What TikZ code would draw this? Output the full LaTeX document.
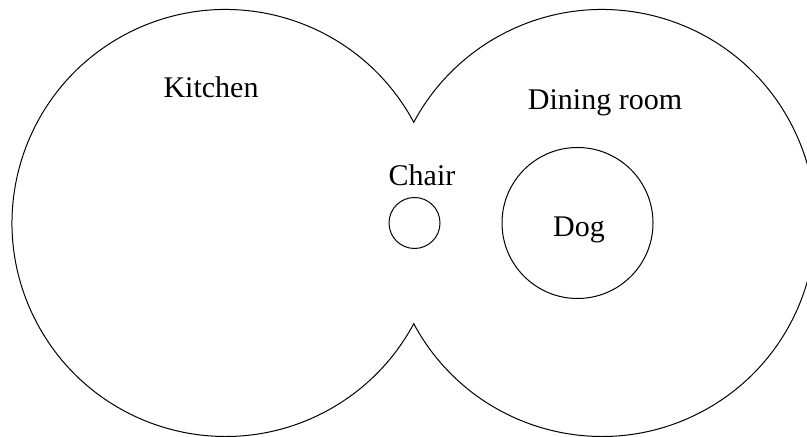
\documentclass[tikz,border=0pt]{standalone}
\usepackage{fontspec}
\setmainfont{Liberation Serif}
\usepackage{tikz}
\usetikzlibrary{positioning}

\tikzset{
  roomlabel/.style={anchor=base, inner sep=0pt, font=\fontsize{15}{18}\selectfont},
  thing/.style={draw, circle, inner sep=0pt, outer sep=0pt},
}

\begin{document}
\begin{tikzpicture}[x=0.5pt, y=0.5pt, line width=0.5pt]
\useasboundingbox (0,0) rectangle (807,437);
% the two rooms, outer outline only
\coordinate (doorTop) at (413.75,314.7);
\draw (doorTop) arc[start angle=28.14, end angle=331.86, radius=213.5]
      arc[start angle=208.14, end angle=511.86, radius=213.5] -- cycle;
\node[roomlabel] (kitchen) at (211,339) {Kitchen};
\node[roomlabel] (dining) at (605,327) {Dining room};
% things in the rooms
\node[thing, minimum size=25.5pt] (chair) at (414.5,214) {};
\node[roomlabel] (chairlabel) at (422,251) {Chair};
\node[thing, minimum size=75.5pt] (dog) at (577.5,214) {};
\node[roomlabel] (doglabel) at (579,200) {Dog};
\end{tikzpicture}
\end{document}
